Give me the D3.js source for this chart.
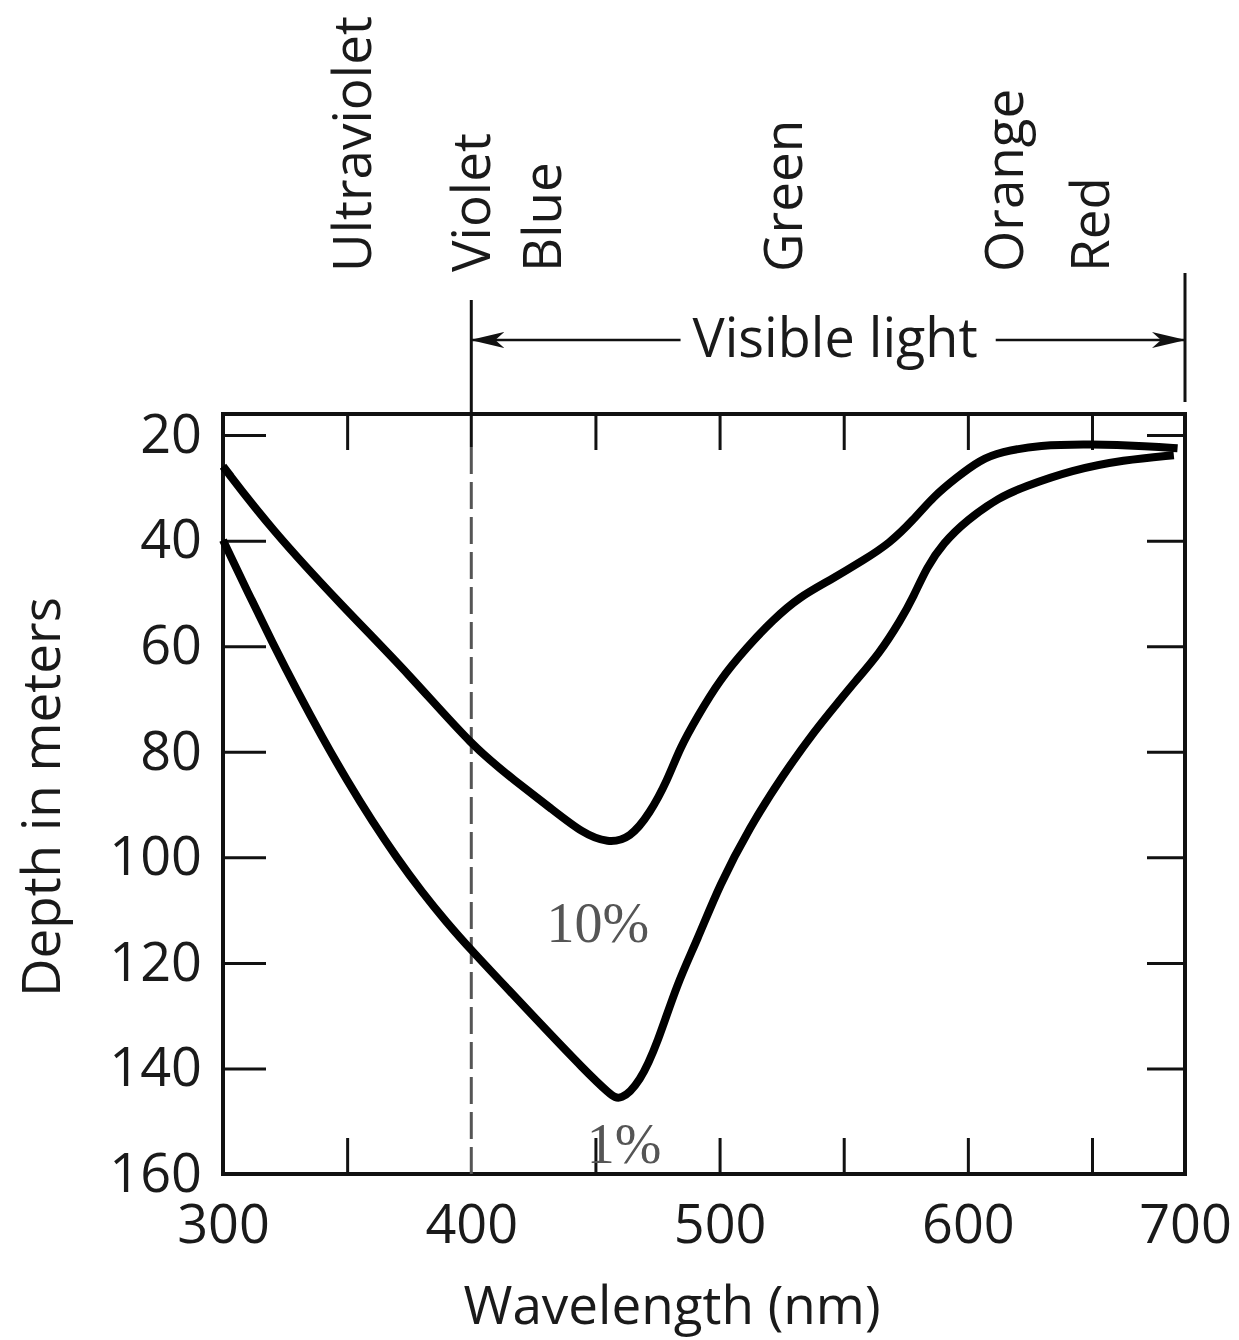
<!DOCTYPE html>
<html>
<head>
<meta charset="utf-8">
<script src="https://d3js.org/d3.v7.min.js"></script>
<style>
  body { margin: 0; background: #fff; }
  svg { display: block; background: #fff; }
</style>
</head>
<body>
<svg id="chart" width="1239" height="1340"></svg>
<script>
// axis ticks
const wavelengthTicks = [300, 350, 400, 450, 500, 550, 600, 650, 700];
const depthTicks = [20, 40, 60, 80, 100, 120, 140, 160];

// colour bands written above the plot
const bandNames = ["Ultraviolet", "Violet", "Blue", "Green", "Orange", "Red"];
const bandWavelengths = [352, 400, 428.5, 525.5, 614.5, 649];

// depth reached by 10% of surface light
const wl10 = [300, 319, 348, 375, 401, 418, 432, 445, 455, 464, 472, 479, 484, 491, 500,
  511, 521.5, 532, 544.5, 558, 568.5, 578, 586, 595.5, 605, 613, 629, 649, 681, 696];
const depth10 = [25.9, 37.6, 52.4, 65.3, 79.3, 85.6, 90.7, 95.5, 97.3, 96.4, 91.6, 85.4, 79.3, 73.4, 66.4,
  60.2, 55.0, 50.7, 47.5, 43.7, 40.5, 36.1, 31.7, 28.0, 24.7, 23.2, 21.9, 21.7, 22.1, 22.5];

// depth reached by 1% of surface light
const wl1 = [300, 310, 320, 330, 340, 350, 360, 370, 380, 390, 400, 415, 430, 445, 456, 460, 468, 475, 483, 491,
  500, 512, 525.5, 538.5, 548.5, 554, 564.5, 573, 578, 583.5, 590, 599.5, 613, 622, 642, 667, 694];
const depth1 = [39.9, 49.8, 59.4, 68.6, 77.3, 85.5, 93.1, 100.1, 106.5, 112.3, 117.6, 125.1, 132.6, 140.0, 145.0, 146.2, 142.6, 135.2, 123.8, 115.7,
  105.2, 94.4, 84.4, 75.9, 70.2, 67.0, 61.3, 55.0, 50.7, 45.0, 40.5, 36.1, 31.7, 29.9, 26.6, 24.7, 23.8];

const curveNames = ["10%", "1%"];
const curveLabelWl = [451, 461.5];
const curveLabelDepth = [116, 158];

const visibleRange = [400, 700];

var margin = { top: 414, left: 223 },
  width = 962,
  height = 760;

var svg = d3.select("#chart");

// hand-drawn axis: the last 50 nm are squeezed
var x = d3.scaleLinear()
  .domain([300, 650, 700])
  .range([0, 869, width]);

var y = d3.scaleLinear()
  .domain([16, 160])
  .range([0, height]);

var chart = svg.append("g")
  .attr("transform", "translate(" + margin.left + "," + margin.top + ")");

function styleAxis(sel) {
  sel.attr("font-family", "'Open Sans', sans-serif").attr("font-size", 54);
  sel.select(".domain").remove();
  sel.selectAll(".tick line").attr("stroke", "#111").attr("stroke-width", 3);
  sel.selectAll(".tick text").attr("fill", "#1a1a1a");
}

// bottom axis with labels on the hundreds
var xAxis = chart.append("g")
  .attr("transform", "translate(0," + height + ")")
  .call(d3.axisBottom(x).tickValues(wavelengthTicks).tickSize(-36).tickPadding(31)
    .tickFormat(d => d % 100 === 0 ? d : ""))
  .call(styleAxis);
xAxis.selectAll(".tick line").filter(d => d === 300 || d === 400 || d === 700).remove();

var xTop = chart.append("g")
  .call(d3.axisTop(x).tickValues(wavelengthTicks.filter(d => d !== 300 && d !== 400 && d !== 700))
    .tickSize(-36).tickFormat(""))
  .call(styleAxis);

var yAxis = chart.append("g")
  .call(d3.axisLeft(y).tickValues(depthTicks).tickSize(-43).tickPadding(21))
  .call(styleAxis);
yAxis.selectAll(".tick line").filter(d => d === 160).remove();

var yRight = chart.append("g")
  .attr("transform", "translate(" + width + ",0)")
  .call(d3.axisRight(y).tickValues(depthTicks.filter(d => d !== 160)).tickSize(-38).tickFormat(""))
  .call(styleAxis);

// frame
chart.append("rect")
  .attr("x", 0).attr("y", 0)
  .attr("width", width).attr("height", height)
  .attr("fill", "none")
  .attr("stroke", "#111")
  .attr("stroke-width", 4);

// start of visible light: solid above the plot, dashed inside
chart.append("line")
  .attr("x1", x(visibleRange[0])).attr("x2", x(visibleRange[0]))
  .attr("y1", -114).attr("y2", 33)
  .attr("stroke", "#111").attr("stroke-width", 3);
chart.append("line")
  .attr("x1", x(visibleRange[0])).attr("x2", x(visibleRange[0]))
  .attr("y1", 33).attr("y2", height)
  .attr("stroke", "#555").attr("stroke-width", 3)
  .attr("stroke-dasharray", "27,8");

// end of visible light
chart.append("line")
  .attr("x1", x(visibleRange[1])).attr("x2", x(visibleRange[1]))
  .attr("y1", -141).attr("y2", -12)
  .attr("stroke", "#111").attr("stroke-width", 3);

// arrow heads
svg.append("defs").append("marker")
  .attr("id", "arrow")
  .attr("viewBox", "0 0 34 18")
  .attr("refX", 33).attr("refY", 9)
  .attr("markerWidth", 34).attr("markerHeight", 18)
  .attr("markerUnits", "userSpaceOnUse")
  .attr("orient", "auto")
  .append("path")
  .attr("d", "M0,1 L34,9 L0,17 L9,9 Z")
  .attr("fill", "#111");

var arrowY = -74;
var visText = chart.append("text")
  .attr("x", (x(visibleRange[0]) + x(visibleRange[1])) / 2 + 7)
  .attr("y", arrowY + 17)
  .attr("text-anchor", "middle")
  .style("font-family", "'Open Sans', sans-serif")
  .attr("font-size", 54)
  .attr("fill", "#1a1a1a")
  .text("Visible light");
var tb = visText.node().getBBox();

chart.append("line")
  .attr("x1", tb.x - 12).attr("x2", x(visibleRange[0]))
  .attr("y1", arrowY).attr("y2", arrowY)
  .attr("stroke", "#111").attr("stroke-width", 2.5)
  .attr("marker-end", "url(#arrow)");
chart.append("line")
  .attr("x1", tb.x + tb.width + 18).attr("x2", x(visibleRange[1]))
  .attr("y1", arrowY).attr("y2", arrowY)
  .attr("stroke", "#111").attr("stroke-width", 2.5)
  .attr("marker-end", "url(#arrow)");

// colour names
chart.selectAll(".band")
  .data(bandNames)
  .enter()
  .append("text")
  .attr("class", "band")
  .attr("transform", (d, i) => "translate(" + x(bandWavelengths[i]) + "," + (-142) + ") rotate(-90)")
  .attr("dy", "0.36em")
  .attr("text-anchor", "start")
  .style("font-family", "'Open Sans', sans-serif")
  .attr("font-size", 53)
  .attr("fill", "#1a1a1a")
  .text(d => d);

// curves
var line = d3.line()
  .x(d => x(d[0]))
  .y(d => y(d[1]))
  .curve(d3.curveBasis);

var series = [d3.zip(wl10, depth10), d3.zip(wl1, depth1)];

chart.selectAll(".curve")
  .data(series)
  .enter()
  .append("path")
  .attr("class", "curve")
  .attr("d", line)
  .attr("fill", "none")
  .attr("stroke", "#000")
  .attr("stroke-width", 8)
  .attr("stroke-linejoin", "round")
  .attr("stroke-linecap", "butt");

chart.selectAll(".curve-label")
  .data(curveNames)
  .enter()
  .append("text")
  .attr("class", "curve-label")
  .attr("x", (d, i) => x(curveLabelWl[i]))
  .attr("y", (d, i) => y(curveLabelDepth[i]))
  .attr("text-anchor", "middle")
  .style("font-family", "'Liberation Serif', serif")
  .attr("font-size", 56)
  .attr("fill", "#555")
  .text(d => d);

// axis titles
svg.append("text")
  .attr("x", 672).attr("y", 1324)
  .attr("text-anchor", "middle")
  .style("font-family", "'Open Sans', sans-serif")
  .attr("font-size", 53)
  .attr("fill", "#1a1a1a")
  .text("Wavelength (nm)");

svg.append("text")
  .attr("transform", "translate(60,797) rotate(-90)")
  .attr("text-anchor", "middle")
  .style("font-family", "'Open Sans', sans-serif")
  .attr("font-size", 53)
  .attr("fill", "#1a1a1a")
  .text("Depth in meters");
</script>
</body>
</html>
